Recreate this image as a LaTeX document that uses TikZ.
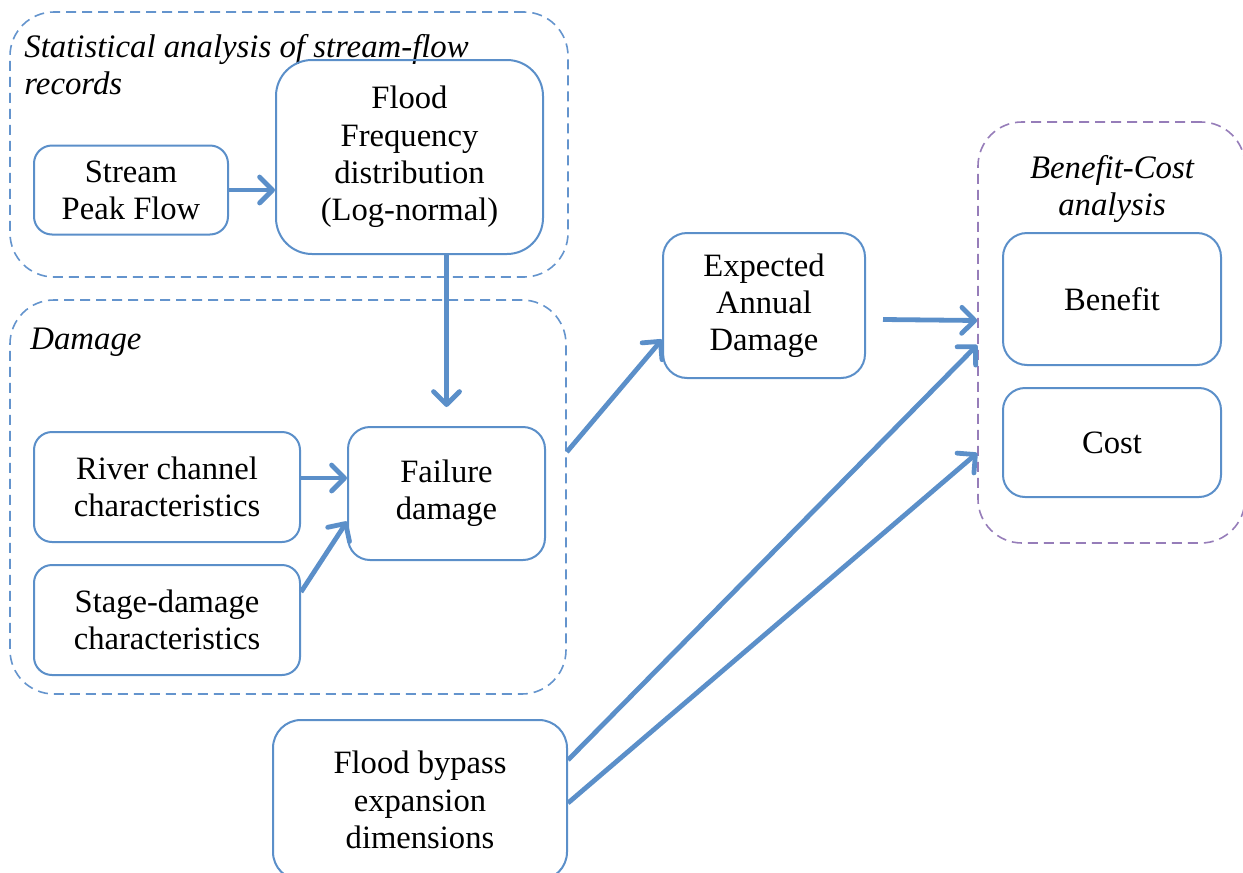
\documentclass[tikz,border=0pt]{standalone}
\usepackage{fontspec}
\setmainfont{Liberation Serif}
\usetikzlibrary{arrows.meta,positioning}
\definecolor{boxblue}{RGB}{91,143,201}
\definecolor{grpblue}{RGB}{100,148,205}
\definecolor{grppurple}{RGB}{150,125,185}

\begin{document}
\begin{tikzpicture}[x=0.5pt,y=-0.5pt,>={Straight Barb[length=6.5pt,width=13pt,round]},
                    box/.style={draw=boxblue,line width=1pt,rounded corners=9pt,align=center,
                                inner sep=0pt,font=\fontsize{16.3}{18.6}\selectfont},
                    group/.style={draw=grpblue,line width=0.8pt,dash pattern=on 5pt off 3pt,
                                  rounded corners=22pt,inner sep=0pt},
                    title/.style={inner sep=0pt,font=\fontsize{16.4}{18.5}\selectfont\itshape},
                    flow/.style={->,draw=boxblue,line width=2.4pt}]

  \useasboundingbox (0,0) rectangle (1243,873);

  % groups
  \node[group,minimum width=279pt,minimum height=132.5pt]   (stat) at (289,144.5) {};
  \node[group,minimum width=278pt,minimum height=197pt]     (dmg)  at (288,497) {};
  \node[group,draw=grppurple,minimum width=133.5pt,minimum height=210.5pt] (bc) at (1111.5,332.5) {};

  \node[title,anchor=north west,align=left] (stattitle) at (24,34) {Statistical analysis of stream-flow\\records};
  \node[title,anchor=north west]            (dmgtitle)  at (30,328) {Damage};
  \node[title,anchor=north,align=center]    (bctitle)   at (1112,155) {Benefit-Cost\\analysis};

  % boxes
  \node[box,minimum width=97pt,minimum height=44.5pt]  (peak)    at (131,190) {Stream\\Peak Flow};
  \node[box,rounded corners=18pt,minimum width=133.5pt,minimum height=97pt]
                                                       (freq)    at (409.5,157) {Flood\\Frequency\\distribution\\(Log-normal)};
  \node[box,minimum width=133pt,minimum height=55pt]   (river)   at (167,487) {River channel\\characteristics};
  \node[box,minimum width=133pt,minimum height=55pt]   (stage)   at (167,620) {Stage-damage\\characteristics};
  \node[box,rounded corners=11pt,minimum width=98.5pt,minimum height=66.5pt]
                                                       (fail)    at (446.5,493.5) {Failure\\damage};
  \node[box,rounded corners=12pt,minimum width=101pt,minimum height=72.5pt]
                                                       (ead)     at (764,305.5) {Expected\\Annual\\Damage};
  \node[box,rounded corners=12pt,minimum width=109pt,minimum height=66pt]
                                                       (benefit) at (1112,299) {Benefit};
  \node[box,rounded corners=11pt,minimum width=109pt,minimum height=54.5pt]
                                                       (cost)    at (1112,442.5) {Cost};
  \node[box,rounded corners=14pt,minimum width=147pt,minimum height=80pt]
                                                       (bypass)  at (420,800) {Flood bypass\\expansion\\dimensions};

  % connectors
  \draw[flow] (peak.east) -- (peak.east -| freq.west);
  \draw[flow] (freq.south -| fail.north) -- ([yshift=9.5pt]fail.north);
  \draw[flow] ([yshift=4.5pt]river.east) -- ([yshift=4.5pt]river.east -| fail.west);
  \draw[flow] ([yshift=14pt]stage.east) -- ([yshift=-14pt]fail.west);
  \draw[flow] ([yshift=22.5pt]dmg.east) -- ([yshift=-17pt]ead.west);
  \draw[flow] ([xshift=8.5pt,yshift=-7pt]ead.east) -- ([yshift=6pt]bc.west);
  \draw[flow] ([yshift=20pt]bypass.east) -- ([yshift=-6.25pt]bc.west);
  \draw[flow] ([yshift=-1.5pt]bypass.east) -- ([yshift=-60.25pt]bc.west);

\end{tikzpicture}
\end{document}
